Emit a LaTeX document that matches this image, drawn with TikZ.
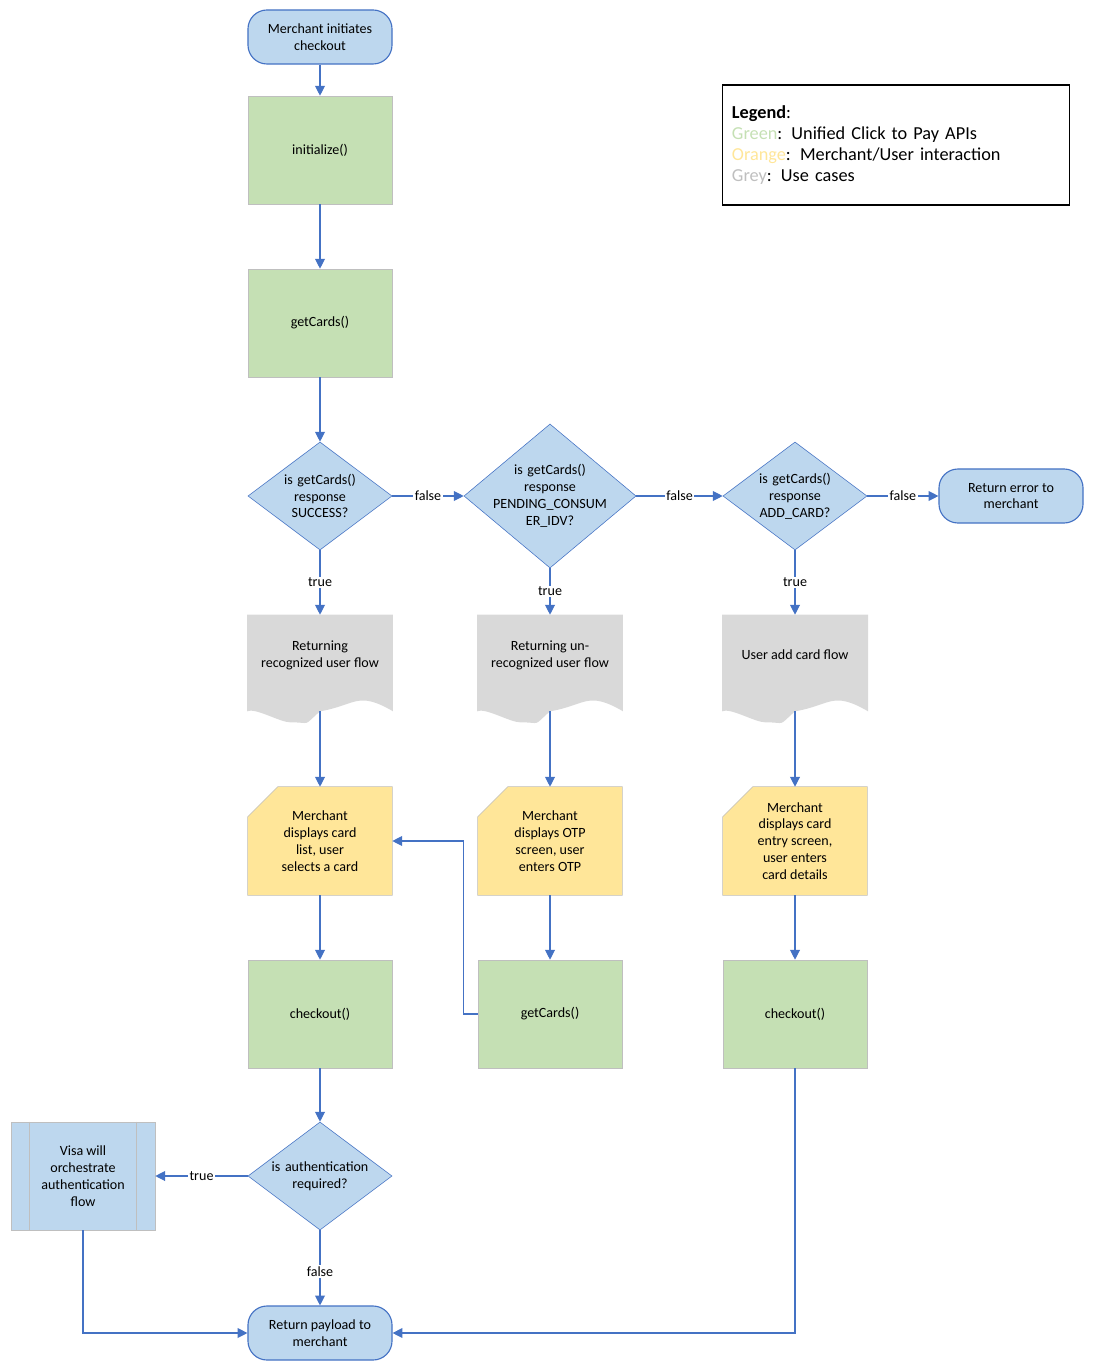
\documentclass[tikz,border=0pt]{standalone}
\usepackage{fontspec}
\setmainfont{Carlito}
\usetikzlibrary{arrows.meta, shapes.geometric, calc}
\definecolor{flowblue}{HTML}{4472C4}
\definecolor{apigreen}{HTML}{C5E0B4}
\definecolor{userorange}{HTML}{FFE699}
\definecolor{casegrey}{HTML}{D9D9D9}
\definecolor{termblue}{HTML}{BDD7EE}
\definecolor{boxline}{HTML}{BFBFBF}

\begin{document}
\begin{tikzpicture}
	[%
	x=0.025cm, y=-0.025cm, font=\fontsize{10}{12}\selectfont,%
	term/.style  ={rectangle, rounded corners=13.5pt, draw=flowblue, fill=termblue, thick, minimum width=3.6cm, minimum height=1.35cm, align=center, inner sep=1pt},%
	api/.style   ={rectangle, draw=boxline, fill=apigreen, minimum width=3.6cm, minimum height=2.7cm, align=center},%
	decide/.style={diamond, draw=flowblue, fill=termblue, minimum width=3.6cm, minimum height=2.7cm, inner sep=0pt},%
	dtext/.style ={align=center, inner sep=0pt, text width=2.9cm},%
	usecase/.style={rectangle, minimum width=3.6cm, minimum height=2.4cm, align=center, text width=3.4cm},%
	flow/.style  ={draw=flowblue, thick, -{Triangle[length=7pt, width=7pt]}},%
	lab/.style   ={fill=white, inner sep=1pt},%
	]
	\useasboundingbox (0,0) rectangle (1094,1371);

	% nodes
	\node (start) at (320,37) [term] {Merchant initiates\\checkout};
	\node (init) at (320,150) [api] {initialize()};
	\node (cards) at (320,323) [api] {getCards()};

	\node (dsuc) at (320,496) [decide] {};
	\node at (dsuc) [dtext] {is getCards()\\response\\SUCCESS?};
	\node (dpend) at (550,496) [decide, minimum width=4.3cm, minimum height=3.6cm] {};
	\node at (dpend) [dtext] {is getCards()\\response\\PENDING\_CONSUM\\ER\_IDV?};
	\node (dadd) at (795,496) [decide] {};
	\node at (dadd) [dtext] {is getCards()\\response\\ADD\_CARD?};
	\node (err) at (1011,496) [term] {Return error to\\merchant};

	% use cases
	\foreach \n/\x/\t in {doca/320/{Returning\\recognized user flow},docb/550/{Returning un-\\recognized user flow},docc/795/{User add card flow}}{
		\node (\n) at (\x,663) [usecase] {};
		\fill [casegrey] (\n.north west) -- (\n.north east) -- (\n.south east)
			.. controls +(-36,-21) and +(36,-6) .. (\n.south)
			.. controls +(-18,16) and +(22,0) .. ($(\n.south)+(-30,11)$)
			.. controls +(-10,0) and +(8,-4) .. (\n.south west) -- cycle;
		\node at ($(\n.center)+(0,-8)$) [align=center] {\t};
	}

	% merchant/user interaction
	\foreach \n/\x/\t in {uia/320/{Merchant\\displays card\\list, user\\selects a card},uib/550/{Merchant\\displays OTP\\screen, user\\enters OTP},uic/795/{Merchant\\displays card\\entry screen,\\user enters\\card details}}{
		\node (\n) at (\x,841) [rectangle, minimum width=3.6cm, minimum height=2.7cm] {};
		\draw [boxline, fill=userorange] ($(\n.north west)+(0,30)$) -- ($(\n.north west)+(30,0)$) -- (\n.north east) -- (\n.south east) -- (\n.south west) -- cycle;
		\node at (\n) [align=center] {\t};
	}

	\node (chka) at (320,1014) [api] {checkout()};
	\node (cardsb) at (550,1014) [api] {getCards()};
	\node (chkc) at (795,1014) [api] {checkout()};

	\node (dauth) at (320,1176) [decide] {};
	\node at (dauth) [dtext] {is authentication\\required?};
	\node (visa) at (83,1176) [rectangle, draw=boxline, fill=termblue, minimum width=3.6cm, minimum height=2.7cm, align=center] {Visa will\\orchestrate\\authentication\\flow};
	\draw [boxline] ($(visa.north west)+(19,0)$) -- ($(visa.south west)+(19,0)$);
	\draw [boxline] ($(visa.north east)+(-19,0)$) -- ($(visa.south east)+(-19,0)$);
	\node (final) at (320,1333) [term] {Return payload to\\merchant};

	% legend
	\node (legend) at (896,145) [rectangle, draw, very thick, minimum width=8.675cm, minimum height=3cm, text width=8.2cm, align=left, font=\fontsize{13}{15}\selectfont]
		{\textbf{Legend}:\\\textcolor{apigreen}{Green}: Unified Click to Pay APIs\\\textcolor{userorange}{Orange}: Merchant/User interaction\\\textcolor{boxline}{Grey}: Use cases};

	% connectors
	\draw [flow] (start) -- (init);
	\draw [flow] (init) -- (cards);
	\draw [flow] (cards) -- (dsuc);
	\draw [flow] (dsuc.east) -- node [lab] {false} (dpend.west);
	\draw [flow] (dpend.east) -- node [lab] {false} (dadd.west);
	\draw [flow] (dadd.east) -- node [lab] {false} (err.west);
	\draw [flow] (dsuc.south) -- node [lab] {true} (doca.north);
	\draw [flow] (dpend.south) -- node [lab] {true} (docb.north);
	\draw [flow] (dadd.south) -- node [lab] {true} (docc.north);
	\foreach \a/\b/\c in {doca/uia/chka,docb/uib/cardsb,docc/uic/chkc}{
		\draw [flow] (\a.south) -- (\b.north);
		\draw [flow] (\b.south) -- (\c.north);
	}
	\draw [flow] (cardsb.west) -- ++(-14,0) |- (uia.east);
	\draw [flow] (chka) -- (dauth);
	\draw [flow] (dauth.west) -- node [lab] {true} (visa.east);
	\draw [flow] (dauth.south) -- node [lab, pos=0.55] {false} (final.north);
	\draw [flow] (visa.south) |- (final.west);
	\draw [flow] (chkc.south) |- (final.east);
\end{tikzpicture}
\end{document}
